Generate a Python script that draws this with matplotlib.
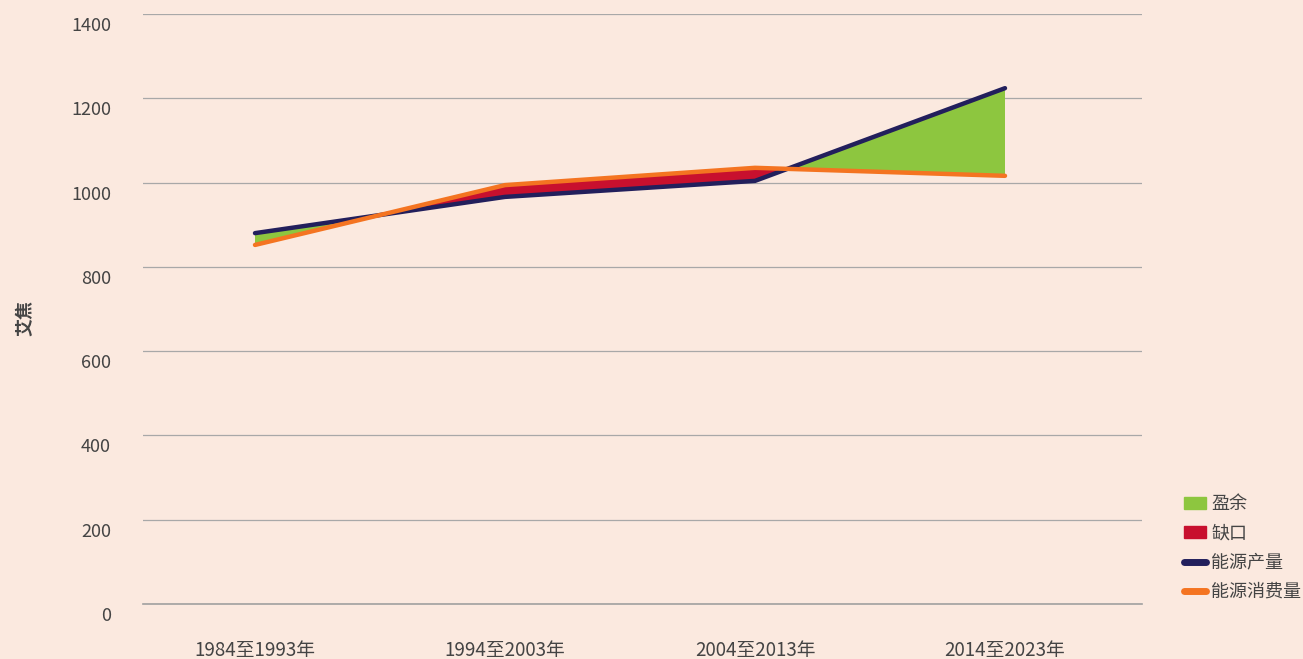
import numpy as np
import matplotlib.pyplot as plt
from matplotlib.patches import Patch
from matplotlib.lines import Line2D
from matplotlib.transforms import ScaledTranslation

plt.rcParams['font.family'] = ['Noto Sans CJK SC', 'DejaVu Sans']

periods = ["1984至1993年", "1994至2003年", "2004至2013年", "2014至2023年"]
production = [880, 966, 1004, 1224]
consumption = [852, 994, 1035, 1016]
yticks = [0, 200, 400, 600, 800, 1000, 1200, 1400]

bg = "#fbe9df"
c_prod = "#221f5c"
c_cons = "#f47421"
c_surplus = "#8dc63f"
c_deficit = "#c8102e"

fig = plt.figure(figsize=(13.03, 6.59), dpi=100, facecolor=bg)
ax = fig.add_axes([143 / 1303, 55 / 659, 999 / 1303, 590 / 659], facecolor=bg)

x = np.arange(len(periods))
p = np.array(production, dtype=float)
c = np.array(consumption, dtype=float)

ax.fill_between(x, p, c, where=p >= c, interpolate=True, color=c_surplus, lw=0)
ax.fill_between(x, p, c, where=p <= c, interpolate=True, color=c_deficit, lw=0)
ax.plot(x, p, color=c_prod, lw=3.2, solid_capstyle="round", solid_joinstyle="miter")
ax.plot(x, c, color=c_cons, lw=3.2, solid_capstyle="round", solid_joinstyle="miter")

ax.set_xlim(-0.448, 3.548)
ax.set_ylim(0, 1400)
ax.set_yticks(yticks)
ax.set_xticks(x)
ax.set_xticklabels(periods)
ax.grid(axis="y", color="#a8a8a8", lw=0.9)
ax.axhline(0, color="#a0a0a0", lw=1.2, clip_on=False, zorder=0.5)
ax.set_axisbelow(True)
for s in ax.spines.values():
    s.set_visible(False)
ax.tick_params(length=0, labelcolor="#444444")
ax.tick_params(axis="y", pad=23, labelsize=13)
ax.tick_params(axis="x", pad=26, labelsize=13.5)
shift = ScaledTranslation(0, -10 / 100, fig.dpi_scale_trans)
for lbl in ax.get_yticklabels():
    lbl.set_transform(lbl.get_transform() + shift)
ax.set_ylabel("艾焦", fontsize=13, fontweight="bold", color="#444444")
ax.yaxis.set_label_coords(-0.109, 0.485)

handles = [
    Patch(color=c_surplus, label="盈余"),
    Patch(color=c_deficit, label="缺口"),
    Line2D([0], [0], color=c_prod, lw=5, solid_capstyle="round", label="能源产量"),
    Line2D([0], [0], color=c_cons, lw=5, solid_capstyle="round", label="能源消费量"),
]
fig.legend(handles=handles, loc="upper left", bbox_to_anchor=(1177 / 1303, 1 - 488 / 659),
           frameon=False, fontsize=13, labelcolor="#444444", handlelength=1.2,
           handleheight=0.6, handletextpad=0.3, labelspacing=0.62, borderaxespad=0)

fig.savefig("out.png", dpi=100, facecolor=bg)
